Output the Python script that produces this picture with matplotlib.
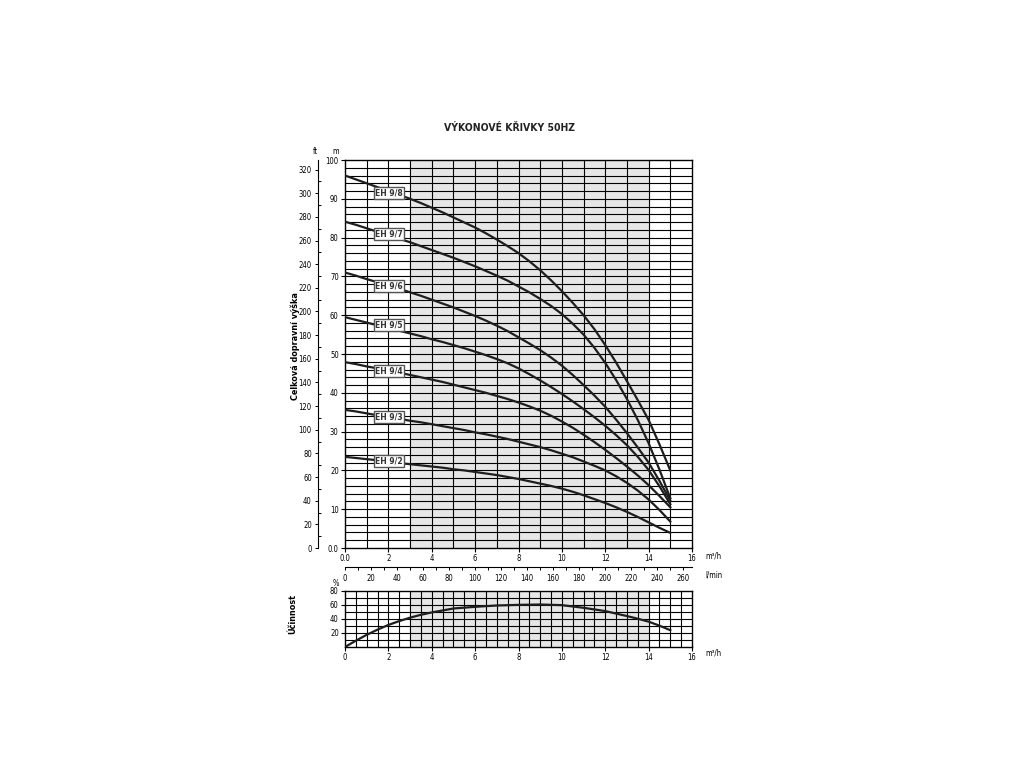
import matplotlib
matplotlib.use("Agg")
import matplotlib.pyplot as plt
from matplotlib import font_manager
from matplotlib.ticker import MultipleLocator

# flow points (m3/h) where the head curves were read, every 0.5 m3/h
q = [0, 0.5, 1, 1.5, 2, 2.5, 3, 3.5, 4, 4.5, 5, 5.5, 6, 6.5, 7, 7.5,
     8, 8.5, 9, 9.5, 10, 10.5, 11, 11.5, 12, 12.5, 13, 13.5, 14, 14.5, 15]
h_98 = [96.0, 95.0, 94.0, 93.0, 92.0, 91.0, 90.0, 88.9, 87.7, 86.5, 85.2, 83.9, 82.6, 81.1, 79.5, 77.8,
        76.0, 73.9, 71.6, 69.0, 66.2, 63.2, 60.0, 56.4, 52.3, 47.8, 43.0, 38.1, 33.0, 26.7, 20.0]
h_97 = [84.1, 83.3, 82.4, 81.5, 80.6, 79.7, 78.8, 77.8, 76.8, 75.8, 74.8, 73.7, 72.6, 71.4, 70.2, 68.9,
        67.4, 65.9, 64.2, 62.4, 60.3, 57.8, 55.0, 51.6, 47.7, 43.3, 38.4, 33.0, 27.0, 20.2, 12.8]
h_96 = [71.0, 70.2, 69.3, 68.5, 67.6, 66.8, 65.9, 65.0, 64.0, 63.0, 62.0, 60.9, 59.8, 58.6, 57.3, 55.9,
        54.3, 52.7, 51.0, 49.1, 47.0, 44.6, 42.0, 39.3, 36.4, 33.1, 29.6, 25.9, 22.0, 17.3, 12.2]
h_95 = [59.5, 58.8, 58.1, 57.4, 56.7, 56.0, 55.3, 54.6, 53.8, 53.1, 52.3, 51.5, 50.6, 49.7, 48.7, 47.6,
        46.3, 44.8, 43.2, 41.5, 39.7, 37.8, 35.8, 33.7, 31.5, 29.1, 26.5, 23.5, 20.1, 15.9, 11.3]
h_94 = [47.9, 47.4, 46.8, 46.3, 45.7, 45.2, 44.6, 44.0, 43.4, 42.8, 42.1, 41.4, 40.7, 40.0, 39.2, 38.4,
        37.5, 36.5, 35.4, 34.1, 32.6, 31.0, 29.2, 27.3, 25.3, 23.2, 21.0, 18.7, 16.2, 13.4, 10.5]
h_93 = [35.6, 35.2, 34.7, 34.2, 33.7, 33.3, 32.8, 32.4, 31.9, 31.4, 30.9, 30.4, 29.8, 29.3, 28.7, 28.1,
        27.4, 26.7, 26.0, 25.2, 24.3, 23.4, 22.3, 21.2, 20.0, 18.5, 16.8, 14.8, 12.5, 9.8, 6.8]
h_92 = [23.5, 23.2, 22.9, 22.6, 22.2, 21.9, 21.6, 21.3, 21.0, 20.7, 20.3, 20.0, 19.6, 19.2, 18.8, 18.3,
        17.8, 17.2, 16.6, 16.0, 15.3, 14.5, 13.6, 12.6, 11.6, 10.5, 9.3, 8.0, 6.6, 5.2, 3.9]
heads = [h_98, h_97, h_96, h_95, h_94, h_93, h_92]
names = ["EH 9/8", "EH 9/7", "EH 9/6", "EH 9/5", "EH 9/4", "EH 9/3", "EH 9/2"]
label_y = [91.5, 80.9, 67.5, 57.5, 45.6, 33.8, 22.4]

q_eff = [0, 0.5, 1, 1.5, 2, 2.5, 3, 3.5, 4, 5, 6, 7, 8, 9, 10, 11, 12, 13, 13.5, 14, 14.5, 15]
eff = [0, 9.0, 17.4, 24.8, 31.5, 37.0, 41.9, 46.0, 49.4, 55.0, 57.4, 59.3, 60.2, 60.7, 59.8,
       56.0, 51.3, 44.2, 40.4, 36.2, 30.5, 24.0]

names_avail = {f.name for f in font_manager.fontManager.ttflist}
if "Liberation Sans Narrow" in names_avail:
    NARROW = dict(family="Liberation Sans Narrow")
else:
    NARROW = dict(family="DejaVu Sans", stretch="condensed")

fig = plt.figure(figsize=(10.24, 7.68), dpi=100)
W, H = 1024, 768
def box(l, t, r, b):
    return [l / W, (H - b) / H, (r - l) / W, (b - t) / H]

SHADE = "#e6e6e6"
INK = "#1e1e1e"
TS = 5.5

# main head plot
ax = fig.add_axes(box(345, 160, 692, 548))
ax.set_xlim(0, 16); ax.set_ylim(0, 100)
ax.axvspan(3, 14, color=SHADE, zorder=0)
for x in range(1, 16):
    ax.axvline(x, color="black", lw=0.8, zorder=1)
for y in range(2, 100, 2):
    ax.axhline(y, color="black", lw=0.8, zorder=1)
for hs in heads:
    ax.plot(q, hs, color=INK, lw=1.6, zorder=3, solid_joinstyle="round")
for n, ly in zip(names, label_y):
    ax.text(2.03, ly, n, ha="center", va="center", fontsize=5.5, fontweight="bold",
            color="#333333", zorder=4,
            bbox=dict(boxstyle="square,pad=0.2", fc="white", ec="#555555", lw=1.0))
ax.xaxis.set_major_locator(MultipleLocator(2))
ax.yaxis.set_major_locator(MultipleLocator(10))
ax.set_xticklabels(["0.0" if v == 0 else f"{v:g}" for v in ax.get_xticks()])
ax.set_yticklabels(["0.0" if v == 0 else f"{v:g}" for v in ax.get_yticks()])
ax.tick_params(length=3, width=0.8, labelsize=TS, pad=1.5)
for lab in ax.get_xticklabels() + ax.get_yticklabels():
    lab.set(**NARROW)
for s in ax.spines.values():
    s.set_linewidth(1.0)

# ft axis on the far left
axft = fig.add_axes(box(318, 160, 319, 548))
axft.set_xlim(0, 1)
for k in ("top", "bottom", "right"):
    axft.spines[k].set_visible(False)
axft.set_xticks([])
axft.yaxis.set_minor_locator(MultipleLocator(10))
axft.set_yticks(list(range(0, 321, 20)))
axft.set_ylim(0, 100 * 3.28084)
axft.tick_params(which="major", direction="out", length=2.5, width=0.7, labelsize=TS, pad=2)
axft.tick_params(which="minor", direction="in", length=2, width=0.7)
for lab in axft.get_yticklabels():
    lab.set(**NARROW)

# l/min axis below the main plot
axl = fig.add_axes(box(345, 566, 692, 567))
axl.set_xlim(0, 16 * 1000 / 60)
for k in ("top", "left", "right"):
    axl.spines[k].set_visible(False)
axl.set_yticks([])
axl.set_xticks(list(range(0, 261, 20)))
axl.xaxis.set_minor_locator(MultipleLocator(10))
axl.tick_params(which="both", direction="out", length=2, width=0.7, labelsize=TS, pad=3)
for lab in axl.get_xticklabels():
    lab.set(**NARROW)

# efficiency plot
axe = fig.add_axes(box(345, 591, 692, 647))
axe.set_xlim(0, 16); axe.set_ylim(0, 80)
axe.axvspan(3, 14, color=SHADE, zorder=0)
for x in [i * 0.5 for i in range(1, 32)]:
    axe.axvline(x, color="black", lw=0.8, zorder=1)
for y in range(10, 80, 10):
    axe.axhline(y, color="black", lw=0.8, zorder=1)
axe.plot(q_eff, eff, color=INK, lw=1.6, zorder=3, solid_joinstyle="round")
axe.xaxis.set_major_locator(MultipleLocator(2))
axe.set_yticks([20, 40, 60, 80])
axe.tick_params(length=3, width=0.8, labelsize=TS, pad=1.5)
for lab in axe.get_xticklabels() + axe.get_yticklabels():
    lab.set(**NARROW)
for s in axe.spines.values():
    s.set_linewidth(1.0)

# texts
fig.text(509 / W, 1 - 128 / H, "VÝKONOVÉ KŘIVKY 50HZ", ha="center", va="center",
         fontsize=7.5, fontweight="bold", color="#222222", **NARROW)
fig.text(315 / W, 1 - 151 / H, "ft", ha="center", va="center", fontsize=TS, **NARROW)
fig.text(336 / W, 1 - 151 / H, "m", ha="center", va="center", fontsize=TS, **NARROW)
fig.text(705 / W, 1 - 556 / H, "m³/h", ha="left", va="center", fontsize=TS, **NARROW)
fig.text(705 / W, 1 - 575 / H, "l/min", ha="left", va="center", fontsize=TS, **NARROW)
fig.text(705 / W, 1 - 653 / H, "m³/h", ha="left", va="center", fontsize=TS, **NARROW)
fig.text(336 / W, 1 - 583 / H, "%", ha="center", va="center", fontsize=TS, **NARROW)
fig.text(295 / W, 1 - 346 / H, "Celková dopravní výška", rotation=90, ha="center", va="center",
         fontsize=6.5, fontweight="bold", **NARROW)
fig.text(293 / W, 1 - 614 / H, "Účinnost", rotation=90, ha="center", va="center",
         fontsize=6.5, fontweight="bold", **NARROW)

fig.savefig("out.png", dpi=100)
